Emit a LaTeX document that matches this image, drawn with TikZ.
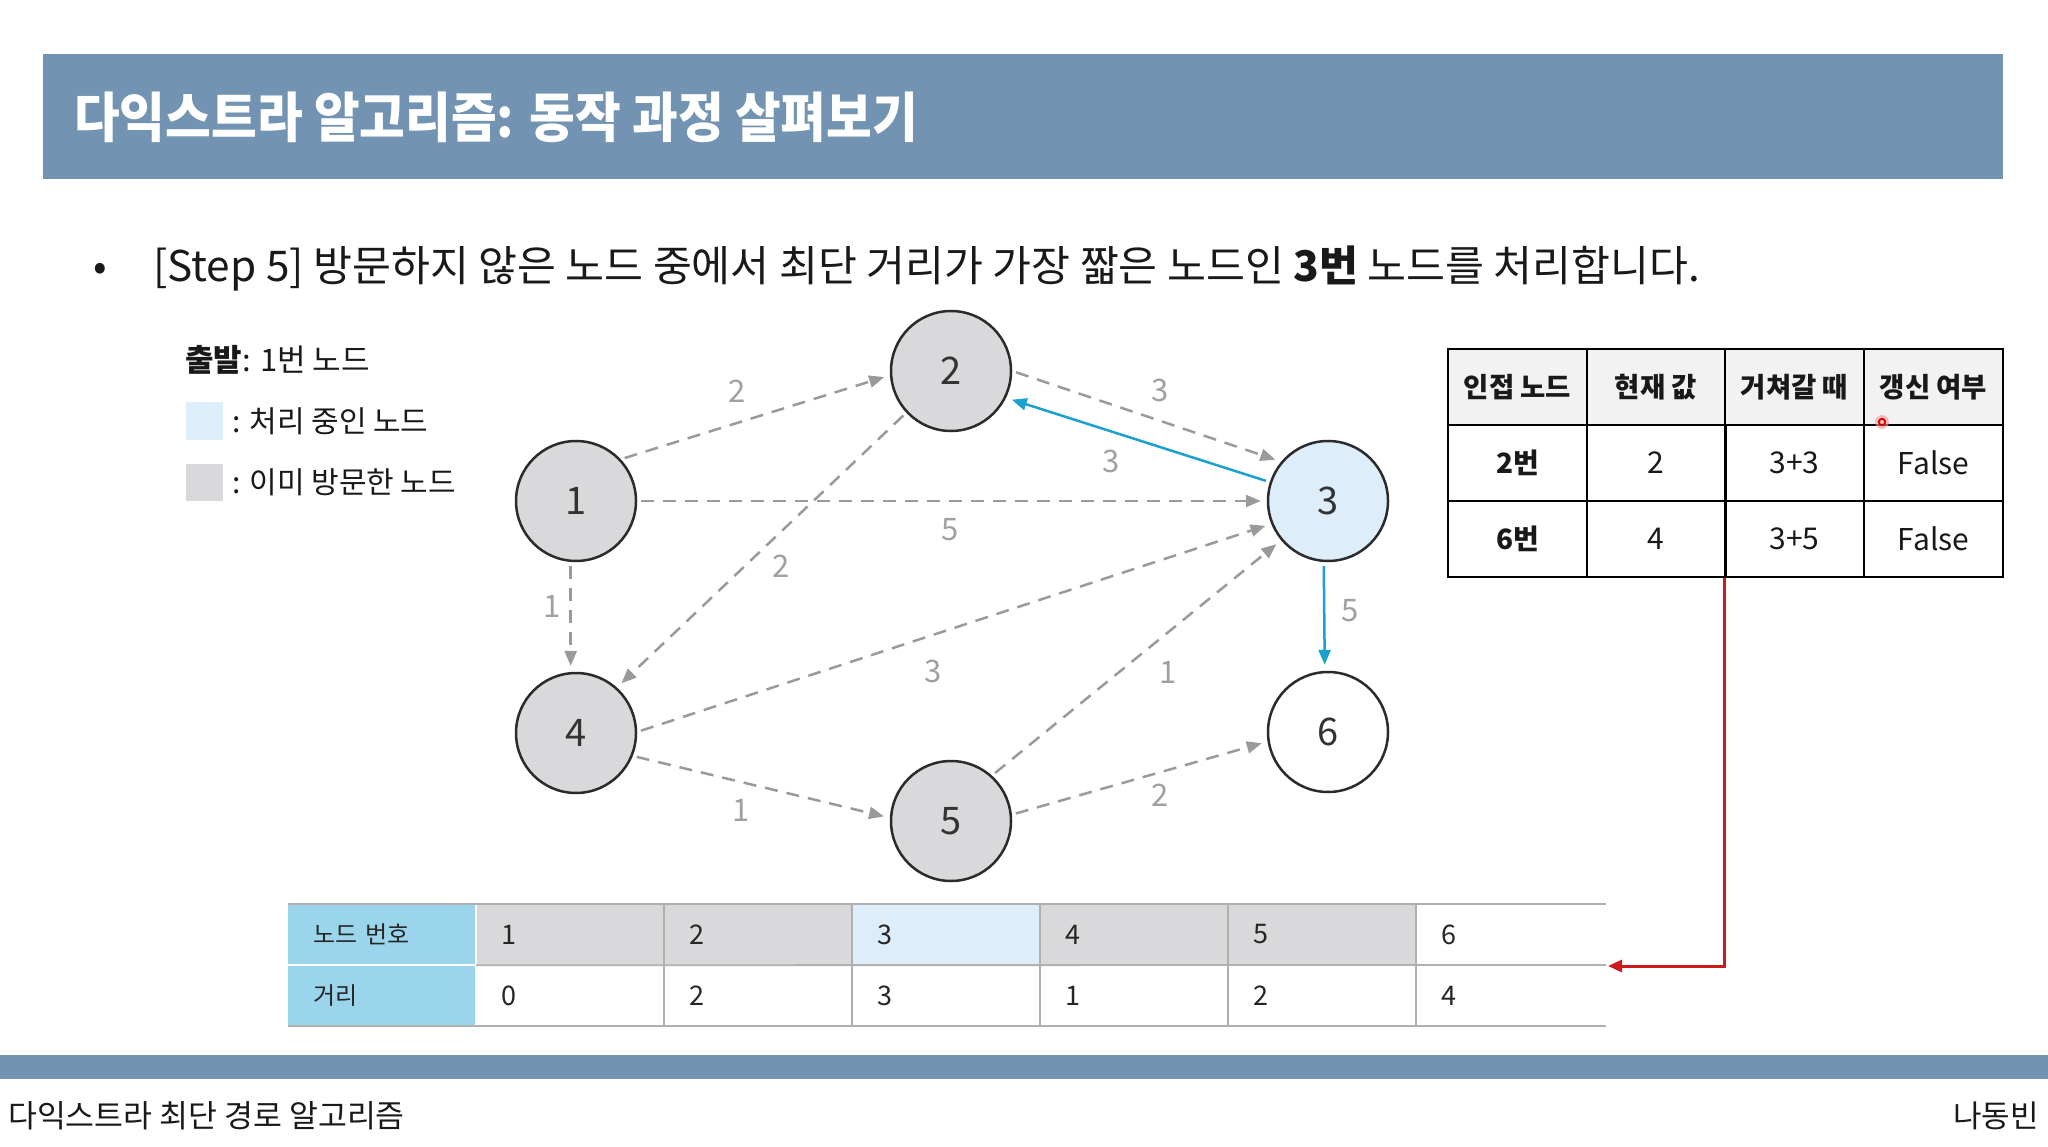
\documentclass[tikz,border=0pt]{standalone}
\usepackage{fontspec}
\setmainfont{Noto Sans CJK KR}
\newfontfamily\titlefont[FakeStretch=0.92]{Noto Sans CJK KR}
\usetikzlibrary{arrows.meta}
\definecolor{barblue}{HTML}{7294B2}
\definecolor{nodegray}{HTML}{D9D9DB}
\definecolor{procblue}{HTML}{DDEDFA}
\definecolor{nodeline}{HTML}{2B2B2B}
\definecolor{edgegray}{HTML}{9A9A9A}
\definecolor{labelgray}{HTML}{A0A0A0}
\definecolor{eblue}{HTML}{1BA1D0}
\definecolor{hdrgray}{HTML}{F2F2F2}
\definecolor{skyhdr}{HTML}{9BD5EC}
\definecolor{tblline}{HTML}{B0B0B0}
\definecolor{redline}{HTML}{CC1A1A}
\newcommand{\myfs}[1]{\fontsize{#1}{#1}\selectfont}
\begin{document}
\begin{tikzpicture}[x=1pt,y=-1pt,
  gnode/.style={circle, minimum size=120pt, inner sep=0pt, draw=nodeline, line width=2.5pt, font=\myfs{38}, text=nodetext},
  dedge/.style={draw=edgegray, line width=2.5pt, dash pattern=on 13pt off 9pt, -{Triangle[length=15pt,width=12pt]}, shorten <=4pt, shorten >=6pt},
  bedge/.style={draw=eblue, line width=2.5pt, -{Triangle[length=15pt,width=12pt]}, shorten <=4pt, shorten >=6pt},
  elabel/.style={font=\myfs{31}, text=labelgray, inner sep=0pt},
  rt/.style={draw=black, line width=2pt, minimum width=139pt, minimum height=76pt, inner sep=0pt, text=black!90},
  rth/.style={rt, fill=hdrgray, font=\myfs{27.5}\bfseries},
  rtb/.style={rt, font=\myfs{28}\bfseries},
  rtv/.style={rt, font=\myfs{30}},
  bt/.style={minimum height=61pt, text width=138pt, inner xsep=25pt, inner ysep=0pt, align=left, anchor=west, font=\myfs{27}, text=black!85},
  bth/.style={bt, font=\myfs{24}},
  legsq/.style={minimum size=37pt, inner sep=0pt},
  txt/.style={inner sep=0pt, text=black!90}
]
\colorlet{nodetext}{black!80}
\useasboundingbox (0,0) rectangle (2048,1147);
\fill[white] (0,0) rectangle (2048,1147);

% title bar
\fill[barblue] (43,54) rectangle (2003,179);
\node[txt, anchor=west, text=white, font=\titlefont\bfseries\myfs{54}] (title) at (74,117) {다익스트라 알고리즘: 동작 과정 살펴보기};

% bullet line
\node[txt, font=\myfs{40}] (bullet) at (100,272) {•};
\node[txt, anchor=west, font=\myfs{42.3}] (stepline) at (153,269) {[Step 5] 방문하지 않은 노드 중에서 최단 거리가 가장 짧은 노드인 \textbf{3번} 노드를 처리합니다.};

% legend
\node[txt, anchor=west, font=\myfs{31}] (leg0) at (185,360) {\textbf{출발}: 1번 노드};
\node[legsq, fill=procblue] (lsq1) at (204,421) {};
\node[txt, anchor=west, font=\myfs{30}] (leg1) at (232,421) {: 처리 중인 노드};
\node[legsq, fill=nodegray] (lsq2) at (204,482) {};
\node[txt, anchor=west, font=\myfs{30}] (leg2) at (232,482) {: 이미 방문한 노드};

% graph nodes
\node[gnode, fill=nodegray] (n1) at (576,501) {1};
\node[gnode, fill=nodegray] (n2) at (951,371) {2};
\node[gnode, fill=procblue] (n3) at (1328,501) {3};
\node[gnode, fill=nodegray] (n4) at (576,733) {4};
\node[gnode, fill=nodegray] (n5) at (951,821) {5};
\node[gnode, fill=white] (n6) at (1328,732) {6};

% edges
\draw[dedge] (n1.43) -- (n2.184);
\draw[dedge] (n1.0) -- (n3.180);
\draw[dedge] (n1.265) -- (n4.95);
\draw[dedge] (n2.0) -- (n3.140);
\draw[dedge] (n2.223) -- (n4.48);
\draw[dedge] (n4.1) -- (n3.202);
\draw[dedge] (n4.338) -- (n5.177);
\draw[dedge] (n5.48) -- (n3.220);
\draw[dedge] (n5.6) -- (n6.189);
\draw[bedge] (n3.162) -- (n2.334);
\draw[bedge] (n3.266) -- (n6.93);

% edge labels
\node[elabel] (l12) at (737,391) {2};
\node[elabel] (l23) at (1160,390) {3};
\node[elabel] (l32) at (1111,461) {3};
\node[elabel] (l13) at (950,530) {5};
\node[elabel] (l24) at (781,566) {2};
\node[elabel] (l14) at (552,606) {1};
\node[elabel] (l36) at (1350,611) {5};
\node[elabel] (l43) at (933,671) {3};
\node[elabel] (l53) at (1168,672) {1};
\node[elabel] (l45) at (741,810) {1};
\node[elabel] (l56) at (1160,795) {2};

% right table
\node[rth] (rh1) at (1517.5,387) {인접 노드};
\node[rth] (rh2) at (1656,387) {현재 값};
\node[rth] (rh3) at (1794.5,387) {거쳐갈 때};
\node[rth] (rh4) at (1933.5,387) {갱신 여부};
\node[rtb] (r11) at (1517.5,463) {2번};
\node[rtv] (r12) at (1656,463) {2};
\node[rtv] (r13) at (1794.5,463) {3+3};
\node[rtv] (r14) at (1933.5,463) {False};
\node[rtb] (r21) at (1517.5,539) {6번};
\node[rtv] (r22) at (1656,539) {4};
\node[rtv] (r23) at (1794.5,539) {3+5};
\node[rtv] (r24) at (1933.5,539) {False};

% pointer dot
\fill[red!40, opacity=0.6] (1882,422) circle (7);
\draw[red!85!black, line width=1.8pt] (1882,422) circle (3.2);

% bottom table
\node[bth, fill=skyhdr] (bh1) at (288,934.5) {노드 번호};
\node[bth, fill=skyhdr] (bh2) at (288,995.5) {거리};
\node[bt, fill=nodegray] (a1) at (476,934.5) {1};
\node[bt, fill=nodegray] (a2) at (664,934.5) {2};
\node[bt, fill=procblue] (a3) at (852,934.5) {3};
\node[bt, fill=nodegray] (a4) at (1040,934.5) {4};
\node[bt, fill=nodegray] (a5) at (1228,934.5) {5};
\node[bt, fill=white] (a6) at (1416,934.5) {6};
\node[bt] (d1) at (476,995.5) {0};
\node[bt] (d2) at (664,995.5) {2};
\node[bt] (d3) at (852,995.5) {3};
\node[bt] (d4) at (1040,995.5) {1};
\node[bt] (d5) at (1228,995.5) {2};
\node[bt] (d6) at (1416,995.5) {4};
\draw[white, line width=2pt] (bh1.south west) -- (bh1.south east);
\draw[white, line width=2pt] (bh1.north east) -- (bh2.south east);
\draw[tblline, line width=1.8pt] (a1.south west) -- (1606,965);
\foreach \c in {a2,a3,a4,a5,a6}{
  \draw[tblline, line width=1.8pt] (\c.north west) -- (\c.north west |- 0,1026);
}
\draw[tblline, line width=2.5pt] (288,904) -- (1606,904);
\draw[tblline, line width=2.5pt] (288,1026) -- (1606,1026);

% red connector
\coordinate (redend) at (1608,966);
\draw[redline, line width=3pt, -{Triangle[length=14pt,width=12pt]}] (r23.south west) |- (redend);

% footer
\fill[barblue] (0,1055) rectangle (2048,1079);
\node[txt, anchor=west, font=\myfs{31.4}] (foot1) at (8,1116) {다익스트라 최단 경로 알고리즘};
\node[txt, anchor=east, font=\myfs{31}] (foot2) at (2039,1116) {나동빈};
\end{tikzpicture}
\end{document}
